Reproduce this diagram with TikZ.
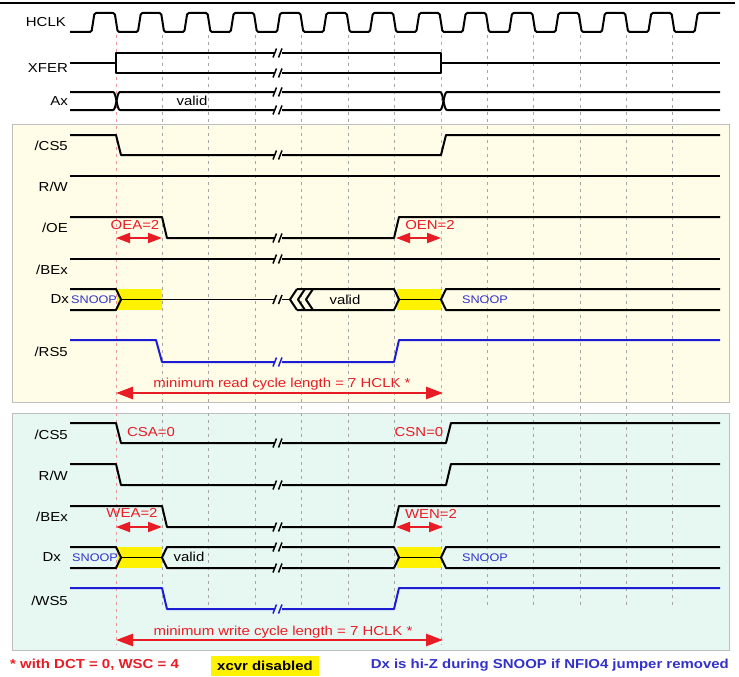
\documentclass[tikz,border=0pt]{standalone}
\usepackage{fontspec}
\setmainfont{Liberation Sans}[FakeStretch=1.15]
\usetikzlibrary{arrows.meta}
\definecolor{readbg}{RGB}{255,253,231}
\definecolor{writebg}{RGB}{231,248,243}
\definecolor{panelborder}{RGB}{190,190,190}
\definecolor{hiyel}{RGB}{255,242,0}
\definecolor{sigred}{RGB}{232,28,36}
\definecolor{sigblue}{RGB}{28,28,210}
\definecolor{txtblue}{RGB}{50,50,200}
\definecolor{gridgray}{RGB}{165,165,165}
\definecolor{gridred}{RGB}{232,150,150}
\newcommand\brkm[4]{%
  \fill[#3] (#1-4,#2-5) rectangle (#1+4,#2+5);
  \draw[#4, line width=1.5pt] (#1-5,#2+4.5) -- (#1-1.5,#2-4.5) (#1+0.5,#2+4.5) -- (#1+4,#2-4.5);}
\begin{document}
\begin{tikzpicture}[x=1pt,y=-1pt,
  sig/.style={line width=2pt, black, line join=round},
  bsig/.style={line width=2pt, sigblue, line join=round},
  gridln/.style={gridgray, line width=0.7pt, dash pattern=on 3pt off 4pt},
  gridrd/.style={gridred, line width=0.7pt, dash pattern=on 3pt off 4pt},
  lbl/.style={anchor=east, inner sep=0pt, font=\fontsize{13}{13}\selectfont},
  redt/.style={inner sep=0pt, text=sigred, font=\fontsize{13}{13}\selectfont},
  snoop/.style={inner sep=0pt, text=txtblue, font=\fontsize{11}{11}\selectfont},
  valt/.style={inner sep=0pt, font=\fontsize{13}{13}\selectfont},
  darr/.style={sigred, line width=2pt, {Triangle[length=14pt,width=10pt]}-{Triangle[length=14pt,width=10pt]}},
  larr/.style={sigred, line width=2.6pt, {Triangle[length=17pt,width=12pt]}-{Triangle[length=17pt,width=12pt]}},
  legend/.style={inner sep=0pt, font=\bfseries\fontsize{13}{13}\selectfont}
  ]
\useasboundingbox (0,0) rectangle (739,677);
\fill[white] (0,0) rectangle (739,677);
% top rule
\draw[line width=2.8pt] (0,3) -- (735,3);
% panels
\draw[panelborder, fill=readbg, line width=0.8pt] (12,124) rectangle (729,402);
\draw[panelborder, fill=writebg, line width=0.8pt] (12,413) rectangle (729,650);
% grid lines
\foreach \k in {1,2,3,4,5,6,8,9,10,11,12}
  \draw[gridln] ({116+46.4*\k},35) -- ({116+46.4*\k},605);
\draw[gridrd] (116,35) -- (116,645);
\draw[gridrd] (441,35) -- (441,645);
% yellow highlights
\fill[hiyel] (117,289) rectangle (162,310);
\fill[hiyel] (397,289) rectangle (441,310);
\fill[hiyel] (117,547) rectangle (162,568);
\fill[hiyel] (397,547) rectangle (441,568);

% ---------- HCLK ----------
\draw[sig, rounded corners=1.5pt] (70,32)
  \foreach \k in {0,...,12}{ -- ({91.5+46.4*\k},32) -- ({94.5+46.4*\k},13) -- ({114.7+46.4*\k},13) -- ({117.7+46.4*\k},32) }
  -- (694.7,32) -- (697.7,13) -- (720,13);
% ---------- XFER ----------
\draw[sig] (70,63) -- (116,63);
\draw[sig] (441,63) -- (720,63);
\draw[sig] (116,53) -- (441,53) -- (441,73) -- (116,73) -- cycle;
\brkm{278}{53}{white}{black}
\brkm{278}{73}{white}{black}
% ---------- Ax ----------
\draw[sig] (70,92) -- (113,92) .. controls (116.5,92) and (116.5,110) .. (120,110) -- (440,110) .. controls (443.5,110) and (443.5,92) .. (447,92) -- (720,92);
\draw[sig] (70,110) -- (113,110) .. controls (116.5,110) and (116.5,92) .. (120,92) -- (440,92) .. controls (443.5,92) and (443.5,110) .. (447,110) -- (720,110);
\brkm{278}{92}{white}{black}
\brkm{278}{110}{white}{black}

% ---------- READ panel ----------
\draw[sig] (70,135) -- (116,135) -- (121,155) -- (441,155) -- (446,135) -- (720,135);
\brkm{278}{155}{readbg}{black}
\draw[sig] (70,176) -- (720,176);
\draw[sig] (70,217) -- (162,217) -- (167,238) -- (394,238) -- (399,217) -- (720,217);
\brkm{278}{238}{readbg}{black}
\draw[sig] (70,259) -- (720,259);
\brkm{278}{259}{readbg}{black}
% Dx read
\draw[sig] (70,289) -- (116,289) -- (121,299.5) -- (116,310) -- (70,310);
\draw[sig, line width=1.6pt] (121,299.5) -- (290,299.5);
\foreach \c in {290,298,306} \draw[sig] (\c+7,289) -- (\c,299.5) -- (\c+7,310);
\draw[sig] (297,289) -- (394,289) -- (399,299.5) -- (394,310) -- (297,310);
\draw[sig, line width=1.6pt] (399,299.5) -- (441,299.5);
\draw[sig] (720,289) -- (446,289) -- (441,299.5) -- (446,310) -- (720,310);
\brkm{278}{299.5}{readbg}{black}
% RS5
\draw[bsig] (70,340) -- (156,340) -- (162,362) -- (394,362) -- (399,340) -- (720,340);
\brkm{278}{362}{readbg}{sigblue}

% ---------- WRITE panel ----------
\draw[sig] (70,423) -- (116,423) -- (121,443) -- (446,443) -- (451,423) -- (720,423);
\brkm{278}{443}{writebg}{black}
\draw[sig] (70,464) -- (116,464) -- (121,485) -- (446,485) -- (451,464) -- (720,464);
\brkm{278}{485}{writebg}{black}
\draw[sig] (70,506) -- (162,506) -- (167,527) -- (394,527) -- (399,506) -- (720,506);
\brkm{278}{527}{writebg}{black}
% Dx write
\draw[sig] (70,547) -- (116,547) -- (121,557.5) -- (116,568) -- (70,568);
\draw[sig, line width=1.6pt] (121,557.5) -- (162,557.5);
\draw[sig] (394,547) -- (167,547) -- (162,557.5) -- (167,568) -- (394,568);
\draw[sig] (394,547) -- (399,557.5) -- (394,568);
\draw[sig, line width=1.6pt] (399,557.5) -- (441,557.5);
\draw[sig] (720,547) -- (446,547) -- (441,557.5) -- (446,568) -- (720,568);
\brkm{278}{547}{writebg}{black}
\brkm{278}{568}{writebg}{black}
% WS5
\draw[bsig] (70,588) -- (162,588) -- (167,609) -- (394,609) -- (399,588) -- (720,588);
\brkm{278}{609}{writebg}{sigblue}

% ---------- arrows ----------
\coordinate (oea1) at (116,238); \coordinate (oea2) at (162,238);
\coordinate (oen1) at (396,238); \coordinate (oen2) at (441,238);
\coordinate (wea1) at (116,527); \coordinate (wea2) at (162,527);
\coordinate (wen1) at (396,527); \coordinate (wen2) at (443,527);
\coordinate (rd1) at (116,393); \coordinate (rd2) at (443,393);
\coordinate (wr1) at (116,640); \coordinate (wr2) at (443,640);
\draw[darr] (oea1) -- (oea2);
\draw[darr] (oen1) -- (oen2);
\draw[darr] (wea1) -- (wea2);
\draw[darr] (wen1) -- (wen2);
\draw[larr] (rd1) -- (rd2);
\draw[larr] (wr1) -- (wr2);

% ---------- labels ----------
\node[lbl] (lhclk) at (66,22) {HCLK};
\node[lbl] (lxfer) at (68,68) {XFER};
\node[lbl] (lax) at (68,101) {Ax};
\node[lbl] (lcs5r) at (68,146) {/CS5};
\node[lbl] (lrwr) at (68,187) {R/W};
\node[lbl] (loe) at (68,228) {/OE};
\node[lbl] (lbexr) at (68,270) {/BEx};
\node[lbl] (ldxr) at (69,299) {Dx};
\node[lbl] (lrs5) at (68,352) {/RS5};
\node[lbl] (lcs5w) at (68,435) {/CS5};
\node[lbl] (lrww) at (68,476) {R/W};
\node[lbl] (lbexw) at (68,517) {/BEx};
\node[lbl] (ldxw) at (61,557) {Dx};
\node[lbl] (lws5) at (68,601) {/WS5};

\node[snoop, anchor=west] (snr1) at (71,299.5) {SNOOP};
\node[snoop] (snr2) at (485,300) {SNOOP};
\node[snoop, anchor=west] (snw1) at (72,557.5) {SNOOP};
\node[snoop] (snw2) at (485,557.5) {SNOOP};

\node[valt] (vax) at (192,101) {valid};
\node[valt] (vdxr) at (345,299.5) {valid};
\node[valt] (vdxw) at (189,557) {valid};

\node[redt] (toea) at (135,225) {OEA=2};
\node[redt] (toen) at (430,225) {OEN=2};
\node[redt] (tcsa) at (151,432) {CSA=0};
\node[redt] (tcsn) at (419,432) {CSN=0};
\node[redt] (twea) at (132,513) {WEA=2};
\node[redt] (twen) at (431,514) {WEN=2};
\node[redt] (trd) at (282,384) {minimum read cycle length = 7 HCLK *};
\node[redt] (twr) at (283,632) {minimum write cycle length = 7 HCLK *};

% ---------- legend ----------
\node[legend, anchor=west, text=sigred] (fn) at (10,665) {* with DCT = 0, WSC = 4};
\node[legend, fill=hiyel, inner xsep=6pt, minimum height=20pt] (xc) at (265,666) {xcvr disabled};
\node[legend, anchor=east, text=txtblue] (hz) at (729,665) {Dx is hi-Z during SNOOP if NFIO4 jumper removed};
\end{tikzpicture}
\end{document}
